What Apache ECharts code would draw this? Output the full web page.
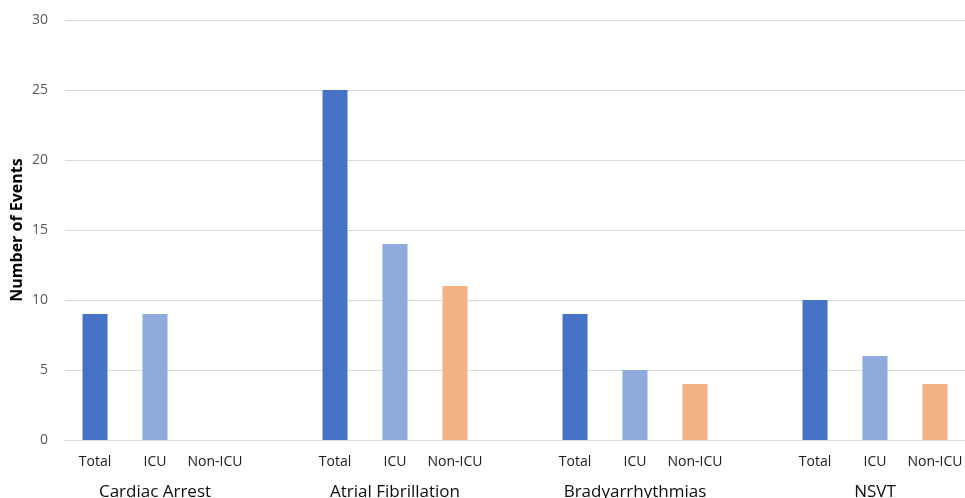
<!DOCTYPE html>
<html>
<head>
<meta charset="utf-8">
<script src="https://cdn.jsdelivr.net/npm/echarts@6/dist/echarts.min.js"></script>
<style>
html,body{margin:0;padding:0;background:#fff;}
#chart{width:965px;height:498px;}
</style>
</head>
<body>
<div id="chart"></div>
<script>
const groups = ['Cardiac Arrest', 'Atrial Fibrillation', 'Bradyarrhythmias', 'NSVT'];
const subLabels = ['Total', 'ICU', 'Non-ICU'];
const totalValues = [9, 25, 9, 10];
const icuValues = [9, 14, 5, 6];
const nonIcuValues = [0, 11, 4, 4];
const yTicks = [0, 5, 10, 15, 20, 25, 30];
const colors = ['#4472C4', '#8FAADC', '#F4B183'];

const subCats = [], groupCats = [], barData = [];
groups.forEach((g, gi) => {
  const vals = [totalValues[gi], icuValues[gi], nonIcuValues[gi]];
  subLabels.forEach((s, si) => {
    subCats.push(s);
    groupCats.push(si === 1 ? g : '');
    barData.push({ value: vals[si], itemStyle: { color: colors[si] } });
  });
  if (gi < groups.length - 1) {
    subCats.push(' ');
    groupCats.push(' ');
    barData.push('-');
  }
});

const chart = echarts.init(document.getElementById('chart'));
chart.setOption({
  animation: false,
  textStyle: { fontFamily: 'Open Sans' },
  grid: { left: 65, right: 0, top: 20, bottom: 58, containLabel: false, outerBoundsMode: 'none' },
  xAxis: [
    {
      type: 'category', data: subCats, position: 'bottom',
      axisLine: { lineStyle: { color: '#d9d9d9', width: 1 } },
      axisTick: { show: false },
      axisLabel: { interval: 0, margin: 15, fontSize: 14, color: '#1a1a1a', fontFamily: 'Open Sans' }
    },
    {
      type: 'category', data: groupCats, position: 'bottom',
      axisLine: { show: false }, axisTick: { show: false },
      axisLabel: { interval: 0, margin: 44, fontSize: 17, color: '#0d0d0d', fontFamily: 'Open Sans' }
    }
  ],
  yAxis: {
    type: 'value', min: yTicks[0], max: yTicks[yTicks.length - 1], interval: 5,
    name: 'Number of Events', nameLocation: 'middle', nameGap: 40, nameRotate: 90,
    nameMoveOverlap: false,
    nameTextStyle: { fontSize: 16, fontWeight: 'bold', color: '#000', fontFamily: 'Open Sans' },
    axisLine: { show: false }, axisTick: { show: false },
    axisLabel: { margin: 17, fontSize: 14, color: '#595959', fontFamily: 'Open Sans' },
    splitLine: { lineStyle: { color: '#d9d9d9', width: 1 } }
  },
  series: [{
    type: 'bar', xAxisIndex: 0, data: barData, barWidth: 25
  }]
});
</script>
</body>
</html>
